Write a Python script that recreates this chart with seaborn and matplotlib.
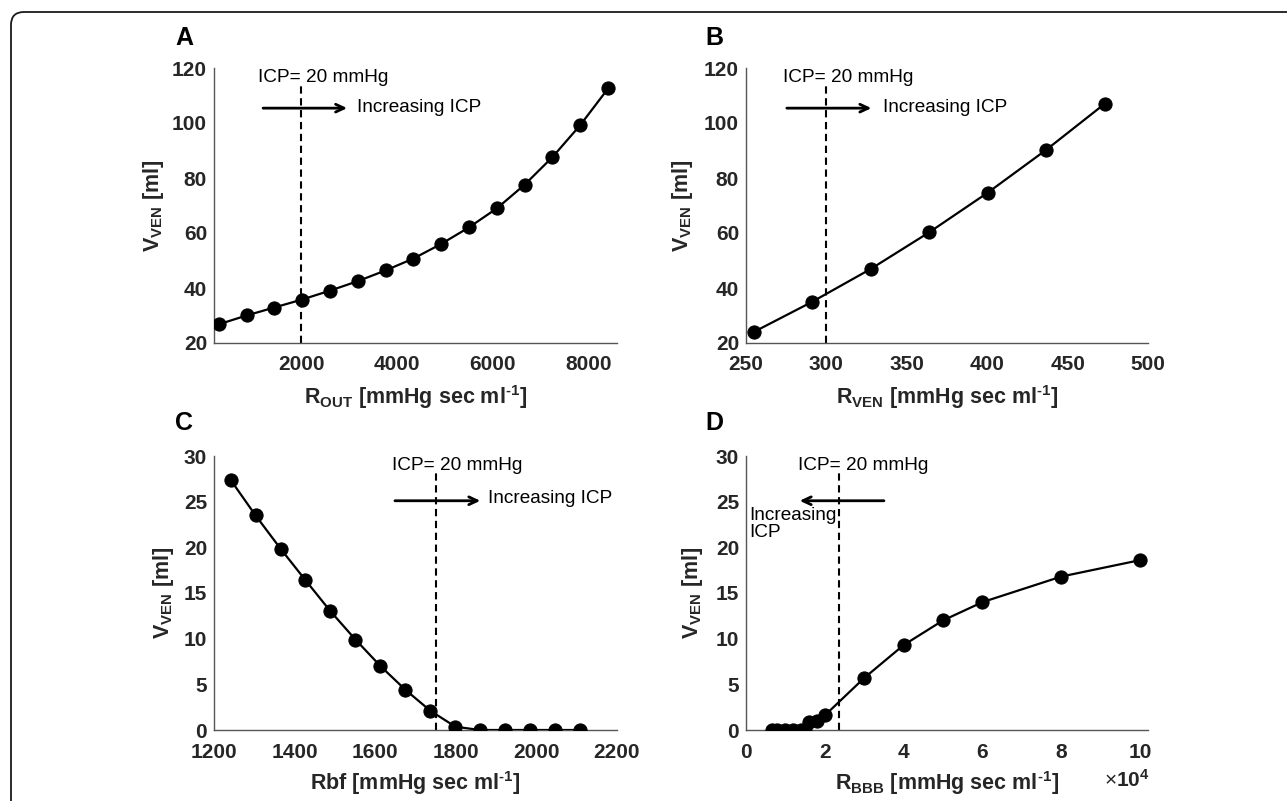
import matplotlib
matplotlib.use('Agg')
import matplotlib.pyplot as plt
import seaborn as sns
import pandas as pd
from matplotlib.patches import FancyBboxPatch

# ---------------- data ----------------
r_out = [270, 850, 1430, 2010, 2590, 3180, 3760, 4340, 4920, 5500, 6090, 6670, 7250, 7830, 8420]
v_ven_a = [26.8, 30.0, 32.9, 35.8, 39.0, 42.5, 46.4, 50.7, 56.0, 62.0, 69.0, 77.6, 87.6, 99.2, 112.7]

r_ven = [254.8, 290.9, 327.5, 363.8, 400.4, 436.6, 473.1]
v_ven_b = [24.0, 34.9, 46.9, 60.2, 74.7, 90.2, 107.0]

rbf = [1241, 1303, 1366, 1427, 1489, 1551, 1613, 1675, 1737, 1799, 1860, 1923, 1985, 2046, 2108]
v_ven_c = [27.4, 23.5, 19.8, 16.4, 13.0, 9.9, 7.0, 4.4, 2.1, 0.36, 0, 0, 0, 0, 0]

r_bbb = [6700, 7800, 10000, 12000, 14000, 15000, 16000, 18000, 20000,
         30000, 40000, 50000, 60000, 80000, 100000]
v_ven_d = [0, 0, 0, 0, 0, 0, 0.85, 1.0, 1.6, 5.7, 9.3, 12.0, 14.0, 16.8, 18.6]

icp_a, icp_b, icp_c, icp_d = 2000, 300, 1750, 23700

ticks_a = [2000, 4000, 6000, 8000]
ticks_b = [250, 300, 350, 400, 450, 500]
ticks_c = [1200, 1400, 1600, 1800, 2000, 2200]
ticks_d = [0, 20000, 40000, 60000, 80000, 100000]
ticklabels_d = ['0', '2', '4', '6', '8', '10']
yticks_ab = [20, 40, 60, 80, 100, 120]
yticks_cd = [0, 5, 10, 15, 20, 25, 30]

# ---------------- style ----------------
sns.set_style('white')
plt.rcParams['font.family'] = ['Liberation Sans', 'DejaVu Sans']
plt.rcParams['mathtext.fontset'] = 'custom'
plt.rcParams['mathtext.rm'] = 'Liberation Sans'
plt.rcParams['mathtext.bf'] = 'Liberation Sans:bold'
plt.rcParams['mathtext.it'] = 'Liberation Sans:italic'

W, H = 1287, 801
fig = plt.figure(figsize=(W / 100, H / 100), dpi=100)

# rounded frame
frame = FancyBboxPatch((0.11, -0.5), 13.5, 8.01 - 0.12 + 0.5,
                       boxstyle='round,pad=0,rounding_size=0.13',
                       transform=fig.dpi_scale_trans, fill=False,
                       edgecolor='#1a1a1a', linewidth=1.3, zorder=0)
fig.patches.append(frame)

def pos(l, r, t, b):
    return [l / W, 1 - b / H, (r - l) / W, (b - t) / H]

axA = fig.add_axes(pos(214, 617, 68, 343))
axB = fig.add_axes(pos(746, 1148, 68, 343))
axC = fig.add_axes(pos(214, 617, 456, 730))
axD = fig.add_axes(pos(746, 1148, 456, 730))

axis_col = '#262626'

def draw(ax, x, y):
    df = pd.DataFrame({'x': x, 'y': y})
    sns.lineplot(data=df, x='x', y='y', ax=ax, color='black', linewidth=1.6,
                 marker='o', markersize=9.5, markeredgecolor='black',
                 markerfacecolor='black', sort=False, zorder=3)
    for s in ['top', 'right']:
        ax.spines[s].set_visible(False)
    for s in ['left', 'bottom']:
        ax.spines[s].set_color('#555555')
        ax.spines[s].set_linewidth(1.0)
    ax.tick_params(direction='in', length=4, width=0.8, color='#555555',
                   labelsize=15, labelcolor=axis_col)
    ax.tick_params(axis='x', pad=9)
    ax.tick_params(axis='y', pad=5)

def style_ticks(ax):
    for lab in ax.get_xticklabels() + ax.get_yticklabels():
        lab.set_fontweight('bold')

label_kw = dict(fontsize=15.5, fontweight='bold', color=axis_col)
ann_kw = dict(fontsize=13.7, color='black')
arrow_kw = dict(arrowstyle='->,head_length=0.6,head_width=0.28', lw=2.0,
                color='black', shrinkA=0, shrinkB=0)
dash_kw = dict(color='black', linestyle=(0, (3.5, 2.2)), linewidth=1.5, zorder=2)

ylab = r'$\mathbf{V_{VEN}}$ [ml]'
sup = r'$^{\mathbf{\u2010}\mathbf{1}}$'.replace(r'\u2010', '\u2010')

# Panel A
draw(axA, r_out, v_ven_a)
axA.set_xlim(170, 8600)
axA.set_ylim(20, 120)
axA.set_xticks(ticks_a)
axA.set_yticks(yticks_ab)
style_ticks(axA)
axA.set_xlabel(r'$\mathbf{R_{OUT}}$ [mmHg sec ml' + sup + ']', **label_kw)
axA.set_ylabel(ylab, **label_kw)
axA.plot([icp_a, icp_a], [20, 115], **dash_kw)
axA.text(1093, 116.4, 'ICP= 20 mmHg', va='center', ha='left', **ann_kw)
axA.annotate('', xy=(2956, 105.4), xytext=(1197, 105.4), arrowprops=arrow_kw)
axA.text(3151, 105.6, 'Increasing ICP', va='center', ha='left', **ann_kw)

# Panel B
draw(axB, r_ven, v_ven_b)
axB.set_xlim(250, 500)
axB.set_ylim(20, 120)
axB.set_xticks(ticks_b)
axB.set_yticks(yticks_ab)
style_ticks(axB)
axB.set_xlabel(r'$\mathbf{R_{VEN}}$ [mmHg sec ml' + sup + ']', **label_kw)
axB.set_ylabel(ylab, **label_kw)
axB.plot([icp_b, icp_b], [20, 115], **dash_kw)
axB.text(273.3, 116.4, 'ICP= 20 mmHg', va='center', ha='left', **ann_kw)
axB.annotate('', xy=(328, 105.4), xytext=(275.4, 105.4), arrowprops=arrow_kw)
axB.text(335, 105.6, 'Increasing ICP', va='center', ha='left', **ann_kw)

# Panel C
draw(axC, rbf, v_ven_c)
axC.set_xlim(1200, 2200)
axC.set_ylim(0, 30)
axC.set_xticks(ticks_c)
axC.set_yticks(yticks_cd)
style_ticks(axC)
axC.set_xlabel('Rbf [mmHg sec ml' + sup + ']', **label_kw)
axC.set_ylabel(ylab, **label_kw)
axC.plot([icp_c, icp_c], [0, 28.1], **dash_kw)
axC.text(1642, 29.0, 'ICP= 20 mmHg', va='center', ha='left', **ann_kw)
axC.annotate('', xy=(1861, 25.1), xytext=(1649, 25.1), arrowprops=arrow_kw)
axC.text(1880, 25.3, 'Increasing ICP', va='center', ha='left', **ann_kw)

# Panel D
draw(axD, r_bbb, v_ven_d)
axD.set_xlim(0, 102000)
axD.set_ylim(0, 30)
axD.set_xticks(ticks_d)
axD.set_xticklabels(ticklabels_d)
axD.set_yticks(yticks_cd)
style_ticks(axD)
axD.set_xlabel(r'$\mathbf{R_{BBB}}$ [mmHg sec ml' + sup + ']', **label_kw)
axD.set_ylabel(ylab, **label_kw)
axD.plot([icp_d, icp_d], [0, 28.1], **dash_kw)
axD.text(13100, 29.0, 'ICP= 20 mmHg', va='center', ha='left', **ann_kw)
axD.annotate('', xy=(13600, 25.1), xytext=(35000, 25.1), arrowprops=arrow_kw)
axD.text(900, 22.55, 'Increasing\nICP', va='center', ha='left',
         linespacing=0.95, **ann_kw)

# label positions
axA.xaxis.set_label_coords(0.5, -(397 - 343) / 275)
axB.xaxis.set_label_coords(0.5, -(397 - 343) / 275)
axC.xaxis.set_label_coords(0.5, -(783 - 730) / 274)
axD.xaxis.set_label_coords(0.5, -(783 - 730) / 274)
for lab in [axA.xaxis.label, axB.xaxis.label, axC.xaxis.label, axD.xaxis.label]:
    lab.set_va('center')
axA.yaxis.set_label_coords(-(214 - 153) / 403, 0.5)
axB.yaxis.set_label_coords(-(746 - 683) / 402, 0.5)
axC.yaxis.set_label_coords(-(214 - 163) / 403, 0.5)
axD.yaxis.set_label_coords(-(746 - 693) / 402, 0.5)
for ax in [axA, axB, axC, axD]:
    ax.yaxis.label.set_va('center')

fig.text(1127 / W, 1 - 780 / H, r'$\times$10$^{\mathbf{4}}$', ha='center', va='center',
         fontsize=15, fontweight='bold', color=axis_col)

# panel letters
for letter, xp, yp in [('A', 175, 38), ('B', 705, 38), ('C', 175, 423), ('D', 705, 423)]:
    fig.text(xp / W, 1 - yp / H, letter, ha='left', va='center', fontsize=18,
             fontweight='bold', color='black')

fig.savefig('out.png', dpi=100)
